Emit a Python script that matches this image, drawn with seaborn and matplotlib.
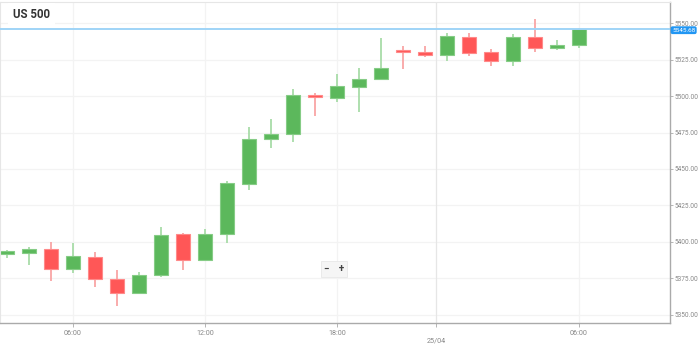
import matplotlib
matplotlib.use("Agg")
import matplotlib.pyplot as plt
import matplotlib.transforms as mtransforms
import seaborn as sns
import numpy as np

# ---- data (hourly candles) ----
hours = ["03:00", "04:00", "05:00", "06:00", "07:00", "08:00", "09:00", "10:00",
         "11:00", "12:00", "13:00", "14:00", "15:00", "16:00", "17:00", "18:00",
         "19:00", "20:00", "21:00", "22:00",
         "00:00", "01:00", "02:00", "03:00", "04:00", "05:00", "06:00"]
opens = [5392.1, 5392.7, 5395.0, 5381.7, 5389.9, 5374.9, 5365.3, 5377.4,
         5405.3, 5387.5, 5405.3, 5439.5, 5470.3, 5473.8, 5500.5, 5498.4,
         5506.4, 5511.8, 5531.7, 5530.3,
         5528.1, 5540.2, 5530.1, 5523.8, 5540.2, 5532.9, 5534.9]
closes = [5393.5, 5395.0, 5381.3, 5390.4, 5374.5, 5364.9, 5377.2, 5405.0,
          5387.5, 5405.3, 5440.2, 5470.5, 5473.8, 5500.5, 5499.1, 5506.8,
          5511.8, 5519.0, 5530.1, 5528.3,
          5541.1, 5529.2, 5523.8, 5540.2, 5532.9, 5535.1, 5545.68]
highs = [5394.5, 5396.8, 5399.8, 5399.1, 5393.4, 5380.8, 5379.5, 5410.5,
         5406.0, 5408.7, 5441.8, 5478.6, 5484.2, 5504.8, 5502.3, 5515.1,
         5519.0, 5539.9, 5534.2, 5534.2,
         5542.9, 5542.9, 5532.0, 5542.3, 5552.7, 5538.4, 5546.6]
lows = [5389.0, 5384.2, 5373.5, 5379.0, 5369.4, 5356.2, 5365.0, 5376.2,
        5380.8, 5387.0, 5399.5, 5435.6, 5464.6, 5468.7, 5486.3, 5496.1,
        5489.2, 5511.0, 5518.3, 5526.9,
        5524.2, 5527.4, 5520.5, 5520.8, 5530.3, 5531.5, 5532.7]
title = "US 500"
last_price = 5545.68
day_label = "25/04"
hour_ticks = ["06:00", "12:00", "18:00"]
y_ticks = [5350, 5375, 5400, 5425, 5450, 5475, 5500, 5525, 5550]

# ---- style ----
sns.set_style("white")
plt.rcParams["font.family"] = ["Roboto", "DejaVu Sans"]

fig = plt.figure(figsize=(6.99, 3.48), dpi=100)
ax = fig.add_axes([0, 1 - 323 / 348, 670 / 699, (323 - 2) / 348])

x = np.arange(len(hours))
o = np.array(opens); c = np.array(closes)
h = np.array(highs); l = np.array(lows)
up = c >= o

green, green_edge, green_wick = "#5cb85c", "#86cc86", "#a8dca8"
red, red_edge, red_wick = "#ff5757", "#ff8a8a", "#f9a5a5"

# grid
for yv in y_ticks:
    ax.axhline(yv, color="#f3f3f3", lw=0.9, zorder=0)

# x tick positions derived from the hours list
tick_pos, tick_lab = [], []
day_break = None
for i, hh in enumerate(hours):
    if i > 0 and hh < hours[i - 1] and day_break is None:
        day_break = i - 0.5
    if hh in hour_ticks:
        tick_pos.append(i); tick_lab.append(hh)
tick_pos.append(day_break); tick_lab.append("\n" + day_label)
order = np.argsort(tick_pos)
tick_pos = [tick_pos[k] for k in order]
tick_lab = [tick_lab[k] for k in order]
for p in tick_pos:
    col = "#e6e6e6" if p == day_break else "#f3f3f3"
    ax.axvline(p, color=col, lw=0.9, zorder=0)

# wicks
ax.vlines(x[up], l[up], h[up], color=green_wick, lw=1.3, zorder=1)
ax.vlines(x[~up], l[~up], h[~up], color=red_wick, lw=1.3, zorder=1)

# bodies
body_h = np.maximum(np.abs(c - o), 1.2)
body_b = np.minimum(o, c)
body_b = np.where(np.abs(c - o) < 1.2, (o + c) / 2 - 0.6, body_b)
ax.bar(x[up], body_h[up], bottom=body_b[up], width=0.63, color=green,
       edgecolor=green_edge, linewidth=0.8, zorder=2)
ax.bar(x[~up], body_h[~up], bottom=body_b[~up], width=0.63, color=red,
       edgecolor=red_edge, linewidth=0.8, zorder=2)

# last price line
ax.axhline(last_price, color="#9fd4f7", lw=1.4, zorder=3)

ax.set_xlim(-0.32, 30.14)
ax.set_ylim(5344.5, 5564.4)

ax.set_xticks(tick_pos)
ax.set_xticklabels(tick_lab)
ax.yaxis.tick_right()
ax.set_yticks(y_ticks)
ax.set_yticklabels([f"{v:.2f}" for v in y_ticks])
ax.tick_params(axis="x", length=3, width=0.6, color="#aaaaaa", labelsize=5.2,
               labelcolor="#888888", pad=2, direction="out", bottom=True)
ax.tick_params(axis="y", length=2, width=0.6, color="#aaaaaa", labelsize=4.7,
               labelcolor="#888888", pad=1, direction="out", right=True, left=False)

for side in ["top", "left"]:
    ax.spines[side].set_color("#e6e6e6")
    ax.spines[side].set_linewidth(0.8)
for side in ["bottom", "right"]:
    ax.spines[side].set_color("#aaaaaa")
    ax.spines[side].set_linewidth(1.0)

# title label
ax.text(13 / 670, 1 - 13 / 321, title, transform=ax.transAxes, fontsize=8.3,
        fontweight="bold", color="#333333", ha="left", va="center",
        bbox=dict(boxstyle="square,pad=0.45", fc="white", ec="none"), zorder=5)

# price tag
trans = mtransforms.blended_transform_factory(ax.transAxes, ax.transData)
ax.text(1.003, last_price - 0.6, f"{last_price:.2f}", transform=trans, fontsize=4.6,
        color="white", ha="left", va="center", clip_on=False,
        bbox=dict(boxstyle="round,pad=0.22,rounding_size=0.3", fc="#2196f3", ec="none"),
        zorder=6)

# zoom buttons
ax.text(334 / 670, 1 - (269 - 2) / 321, "\u2212    +", transform=ax.transAxes,
        fontsize=7, fontweight="bold", color="#444444", ha="center", va="center",
        bbox=dict(boxstyle="square,pad=0.35", fc="#f5f5f5", ec="#e8e8e8", lw=0.6), zorder=6)

fig.savefig("out.png", dpi=100)
